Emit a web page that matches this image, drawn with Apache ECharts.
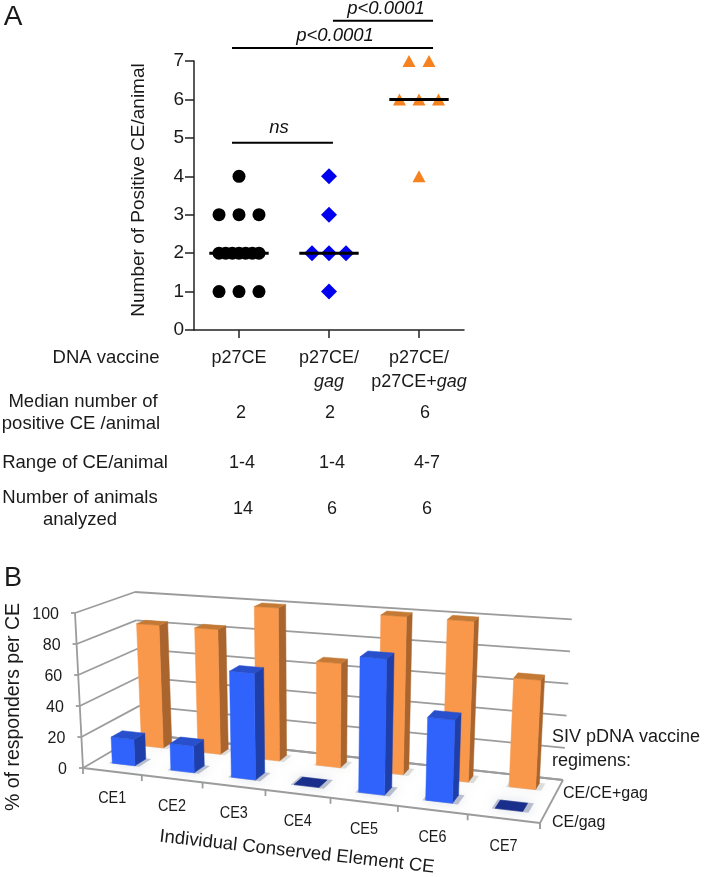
<!DOCTYPE html>
<html><head><meta charset="utf-8">
<style>html,body{margin:0;padding:0;background:#fff}#c{width:706px;height:877px}</style>
<script src="https://cdn.jsdelivr.net/npm/echarts@6/dist/echarts.min.js"></script>
</head><body><div id="c"></div>
<script>
// ---------- Panel A data ----------
const groupPositions = [1, 2, 3];
const xLabels = ['p27CE', 'p27CE/\n{i|gag}', 'p27CE/\np27CE+{i|gag}'];
const circles = [[1,4],[0.778,3],[1,3],[1.222,3],[0.778,2],[0.852,2],[0.926,2],[1,2],[1.074,2],[1.148,2],[1.222,2],[0.778,1],[1,1],[1.222,1]];
const diamonds = [[2,4],[2,3],[1.811,2],[2,2],[2.189,2],[2,1]];
const triangles = [[2.889,7],[3.111,7],[2.783,6],[3,6],[3.217,6],[3,4]];
const medians = [[1,2],[2,2],[3,6]];
const sigBars = [[0.922,2.044,4.87,'ns',1.444],[0.922,3.156,7.34,'p<0.0001',2.067],[2.044,3.156,8.05,'p<0.0001',2.633]];
// ---------- Panel B data ----------
const ceNames = ['CE1','CE2','CE3','CE4','CE5','CE6','CE7'];
const ceCeGag = [83, 83, 100, 67, 100, 100, 67];
const ceGag = [17, 17, 67, 0, 83, 50, 0];
const yTicksB = [0, 20, 40, 60, 80, 100];

// 3-D look of panel B: square-to-quad mapping of the floor, plus a height and lean that vary over it
const floorQuad = [[83,768],[540,823],[563,780],[141,734]];
const cornerHeights = {frontLeft:155, frontRight:172, backLeft:142, backRight:160.7};
const leanCentre = 312, leanRate = 0.035;
function homog(q){
  const [[x0,y0],[x1,y1],[x2,y2],[x3,y3]] = q;
  const dx1=x1-x2,dx2=x3-x2,sx=x0-x1+x2-x3,dy1=y1-y2,dy2=y3-y2,sy=y0-y1+y2-y3;
  const d=dx1*dy2-dx2*dy1, g=(sx*dy2-dx2*sy)/d, h=(dx1*sy-sx*dy1)/d;
  const a=x1-x0+g*x1,b=x3-x0+h*x3,c=x0,e=y1-y0+g*y1,f=y3-y0+h*y3,k=y0;
  return (u,v)=>{const w=g*u+h*v+1;return [(a*u+b*v+c)/w,(e*u+f*v+k)/w];};
}
const H0=homog(floorQuad);
function P(u,v,t){
  const a=H0(u,v), c=cornerHeights;
  const hf=c.frontLeft+(c.frontRight-c.frontLeft)*u, hb=c.backLeft+(c.backRight-c.backLeft)*u;
  const H=hf+(hb-hf)*v;
  return [a[0]+t*(a[0]-leanCentre)*leanRate, a[1]-t*H];
}

const FONT='"Liberation Sans", Arial, sans-serif';
const GREY='#9c9c9c';
function unit(params,api,i,val){
  const r=params.coordSys, c0=api.coord([i,0]), c1=api.coord([i,val]);
  return {u:(c0[0]-r.x)/r.width,t:(r.y+r.height-c1[1])/r.height,hw:api.size([1,0])[0]/r.width};
}
function poly(points,fill){return {type:'polygon',shape:{points},style:{fill,stroke:fill,lineWidth:0.5}};}
function line(a,b,w){return {type:'line',shape:{x1:a[0],y1:a[1],x2:b[0],y2:b[1]},style:{stroke:GREY,lineWidth:w||1.8}};}
function barRenderer(v0,v1,fr,top,side,flat,shadow){
  return function(params,api){
    const i=api.value(0),val=api.value(1),m=unit(params,api,i,val);
    const u0=m.u-m.hw*0.195,u1=m.u+m.hw*0.195,t=m.t;
    const ch=[];
    const e=0.006;
    ch.push({type:'polygon',shape:{points:[P(u0-e,v0-e*2,0),P(u1+e*2,v0-e*2,0),P(u1+e*2,v1+e*2,0),P(u0-e,v1+e*2,0)]},
      style:{fill:shadow,shadowBlur:12,shadowColor:shadow}});
    if(val>0){
      ch.push(poly([P(u1,v0,0),P(u1,v1,0),P(u1,v1,t),P(u1,v0,t)],side));
      ch.push(poly([P(u0,v0,0),P(u1,v0,0),P(u1,v0,t),P(u0,v0,t)],fr));
      ch.push(poly([P(u0,v0,t),P(u1,v0,t),P(u1,v1,t),P(u0,v1,t)],top));
    } else {
      ch.push(poly([P(u0,v0,0),P(u1,v0,0),P(u1,v1,0),P(u0,v1,0)],flat));
    }
    return {type:'group',children:ch};
  };
}
function wallRenderer(params,api){
  const val=api.value(0),m=unit(params,api,0,val),t=m.t,ch=[];
  ch.push(line(P(0,1,t),P(1,1,t)),line(P(0,0,t),P(0,1,t)));
  const a=P(0,0,t);
  ch.push(line(a,[a[0]-4,a[1]]));
  ch.push({type:'text',style:{text:String(val),x:a[0]-16,y:a[1]+2,align:'right',verticalAlign:'middle',font:'16px '+FONT,fill:'#1a1a1a'}});
  if(val===0){
    const br=P(1,0,0);
    ch.push(line(P(0,0,0),P(0,0,1)),line(P(0,0,0),br,2.2),line(br,P(1,1,0)),line(br,[br[0],br[1]+6]),
      line(P(0,1,0),P(1,1,0)));
    ch.push(line(a,[a[0],a[1]+6]));
  }
  return {type:'group',children:ch};
}
function catRenderer(params,api){
  const i=api.value(0),m=unit(params,api,i,0);
  const e=P(m.u+m.hw/2,0,0),c=P(m.u,0,0);
  return {type:'group',children:[line(e,[e[0],e[1]+6]),
    {type:'text',x:c[0],y:c[1]+27.5,scaleX:0.9,style:{text:ceNames[i],x:0,y:0,align:'center',verticalAlign:'middle',font:'16px '+FONT,fill:'#1a1a1a'}}]};
}
function medianRenderer(params,api){
  const a=api.coord([api.value(0)-0.33,api.value(1)]),b=api.coord([api.value(0)+0.33,api.value(1)]);
  return {type:'line',shape:{x1:a[0],y1:a[1],x2:b[0],y2:b[1]},style:{stroke:'#000',lineWidth:3}};
}
function sigRenderer(params,api){
  const a=api.coord([api.value(0),api.value(2)]),b=api.coord([api.value(1),api.value(2)]);
  const lx=api.coord([api.value(4),api.value(2)])[0];
  const d=sigBars[params.dataIndex];
  return {type:'group',children:[
    {type:'line',shape:{x1:a[0],y1:a[1],x2:b[0],y2:b[1]},style:{stroke:'#000',lineWidth:2}},
    {type:'text',style:{text:d[3],x:lx,y:a[1]-(d[3]==='ns'?15:12),align:'center',verticalAlign:'middle',font:'italic 18.5px '+FONT,fill:'#111'}}
  ]};
}
function T(text,x,y,size,extra){
  return Object.assign({type:'text',x,y,style:{text,font:(size||16)+'px '+FONT,fill:'#1a1a1a',align:'center',verticalAlign:'middle'}},extra||{});
}
function L(text,x,y,size){
  return {type:'text',x,y,style:{text,font:size+'px '+FONT,fill:'#1a1a1a',align:'left',verticalAlign:'middle'}};
}
const tableLabels=[['DNA vaccine',106,358],['Median number of',83,402],['positive CE /animal',81,424],['Range of CE/animal',85,463],['Number of animals',80,498],['analyzed',80,520]];
const tableCells=[['2',241,413],['2',330,413],['6',425,413],['1-4',242,463],['1-4',332,463],['4-7',427,463],['14',243,509],['6',332,509],['6',427,509]];

const chart=echarts.init(document.getElementById('c'),null,{renderer:'canvas'});
chart.setOption({
  animation:false,
  backgroundColor:'#fff',
  grid:[
    {left:194,top:61,width:270,height:269},
    {left:100,top:600,width:400,height:200}
  ],
  xAxis:[
    {gridIndex:0,type:'value',min:0.5,max:3.5,splitLine:{show:false},
      axisLine:{show:true,lineStyle:{color:'#222',width:1.5}},
      axisTick:{show:true,customValues:groupPositions,length:8,lineStyle:{color:'#222',width:1.5}},
      axisLabel:{customValues:groupPositions,margin:16,verticalAlign:'top',align:'center',lineHeight:24,
        fontFamily:FONT,fontSize:18,color:'#1a1a1a',
        formatter:v=>xLabels[v-1],
        rich:{i:{fontStyle:'italic',fontFamily:FONT,fontSize:18,color:'#1a1a1a',lineHeight:24}}}},
    {gridIndex:1,type:'category',data:ceNames,show:false}
  ],
  yAxis:[
    {gridIndex:0,type:'value',min:0,max:7,interval:1,splitLine:{show:false},
      axisLine:{show:true,lineStyle:{color:'#222',width:1.5}},
      axisTick:{show:true,length:9,lineStyle:{color:'#222',width:1.5}},
      axisLabel:{margin:10,fontFamily:FONT,fontSize:19,color:'#1a1a1a'}},
    {gridIndex:1,type:'value',min:0,max:100,show:false}
  ],
  graphic:[
    T('A',13,17,28),T('B',13,579,27),
    T('Number of Positive CE/animal',139,190,19,{rotation:Math.PI/2}),
    T('% of responders per CE',13.5,707,19.5,{rotation:Math.PI/2}),
    T('Individual Conserved Element CE',297,852,18.5,{rotation:-0.112}),
    L('SIV pDNA vaccine',552,737,18),
    L('regimens:',552,761,18),
    L('CE/CE+gag',563,794,16),
    L('CE/gag',552,823,16),
    ...tableLabels.map(r=>T(r[0],r[1],r[2],18.5)),
    ...tableCells.map(r=>T(r[0],r[1],r[2],18))
  ],
  series:[
    {type:'scatter',xAxisIndex:0,yAxisIndex:0,clip:false,data:circles,symbol:'circle',symbolSize:13,itemStyle:{color:'#000',opacity:1}},
    {type:'scatter',xAxisIndex:0,yAxisIndex:0,clip:false,data:diamonds,symbol:'diamond',symbolSize:16,itemStyle:{color:'#0000f0',opacity:1}},
    {type:'scatter',xAxisIndex:0,yAxisIndex:0,clip:false,data:triangles,symbol:'triangle',symbolSize:[13,12],itemStyle:{color:'#f5811f',opacity:1}},
    {type:'custom',xAxisIndex:0,yAxisIndex:0,clip:false,z:5,data:medians,encode:{x:0,y:1},renderItem:medianRenderer},
    {type:'custom',xAxisIndex:0,yAxisIndex:0,clip:false,z:5,data:sigBars.map(d=>[d[0],d[1],d[2],0,d[4]]),encode:{x:[0,1],y:2},renderItem:sigRenderer},
    {type:'custom',xAxisIndex:1,yAxisIndex:1,z:2,data:yTicksB.map(v=>[v]),encode:{y:0},renderItem:wallRenderer},
    {type:'custom',xAxisIndex:1,yAxisIndex:1,z:2,data:ceNames.map((c,i)=>[i]),encode:{x:0},renderItem:catRenderer},
    {type:'custom',xAxisIndex:1,yAxisIndex:1,z:3,data:ceCeGag.map((v,i)=>[i,v]),encode:{x:0,y:1},
      renderItem:barRenderer(0.70,0.86,'#f9974a','#c47a34','#a9652d','#a9652d','rgba(175,175,170,0.4)')},
    {type:'custom',xAxisIndex:1,yAxisIndex:1,z:4,data:ceGag.map((v,i)=>[i,v]),encode:{x:0,y:1},
      renderItem:barRenderer(0.19,0.38,'#2f63fb','#2850cc','#1e3faa','#1a2f8c','rgba(125,135,165,0.5)')}
  ]
});
</script></body></html>
